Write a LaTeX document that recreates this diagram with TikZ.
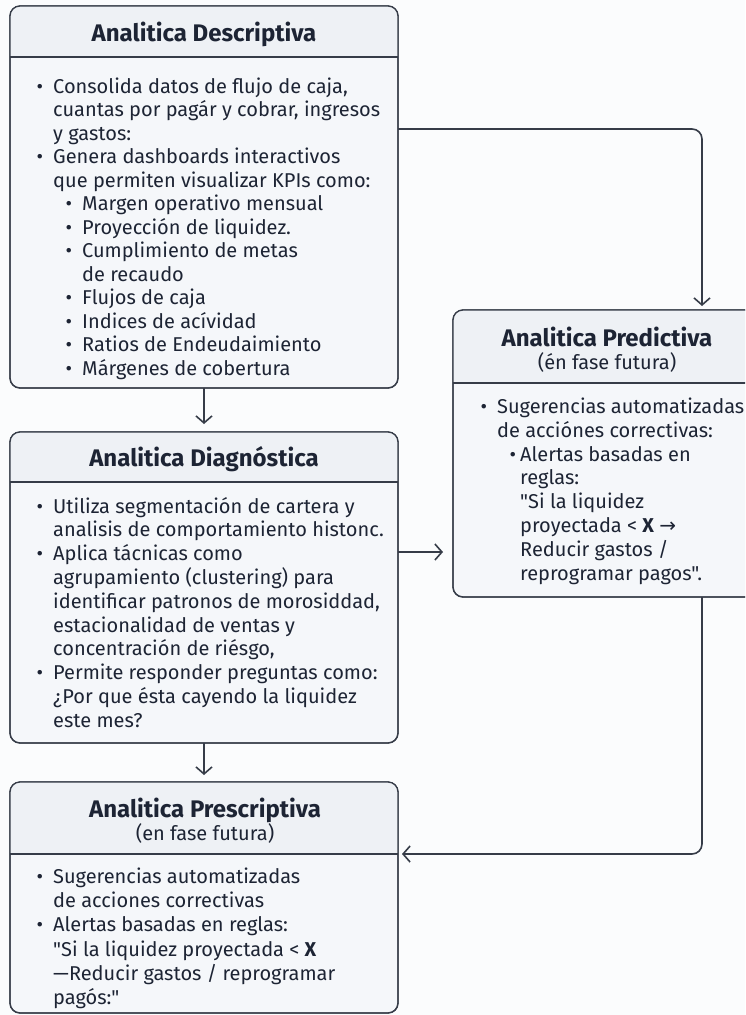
\documentclass[tikz,border=0pt]{standalone}
\usepackage{fontspec}
\setmainfont{Fira Sans}[Ligatures=TeXOff]
\newfontfamily\symfont{DejaVu Sans}
\usetikzlibrary{arrows.meta}
\definecolor{bg}{HTML}{FBFCFD}
\definecolor{boxfill}{HTML}{F5F7FA}
\definecolor{headfill}{HTML}{EEF1F5}
\definecolor{edge}{HTML}{363C48}
\definecolor{ink}{HTML}{1D2434}
\tikzset{
 box/.style={draw=edge, line width=1.3pt, fill=boxfill, rounded corners=10pt, inner sep=0pt, outer sep=0pt},
 title/.style={font=\fontsize{24}{26}\selectfont\bfseries, text=ink, inner sep=0pt, anchor=base},
 subtitle/.style={font=\fontsize{20}{23}\selectfont, text=ink, inner sep=0pt, anchor=base},
 body/.style={text=ink, inner sep=0pt, anchor=north west, align=left},
 arr/.style={draw=edge, line width=1.6pt, -{Straight Barb[length=7pt,width=16pt,line width=1.6pt]}, rounded corners=10pt},
}
\newcommand{\bul}{\llap{\textbullet\hspace{10pt}}}
\newcommand{\subbul}{\hspace*{29pt}\llap{\textbullet\hspace{10pt}}}
\newcommand{\psub}{\hspace*{23pt}\llap{\textbullet\hspace{4pt}}}
\newcommand{\panel}[6]{%
 \node[box, minimum width=#4pt, minimum height=#5pt] (#1) at (#2,#3) {};
 \begin{scope}
 \clip[rounded corners=10pt] (#1.north west) rectangle (#1.south east);
 \fill[headfill] (#1.north west) rectangle (#1.east |- 0,#6);
 \end{scope}
 \draw[edge, line width=1.3pt] (#1.west |- 0,#6) -- (#1.east |- 0,#6);
 \draw[edge, line width=1.3pt, rounded corners=10pt] (#1.north west) rectangle (#1.south east);
}
\begin{document}
\begin{tikzpicture}[x=1pt,y=-1pt]
\useasboundingbox (0,0) rectangle (745,1015);
\clip (0,0) rectangle (745,1015);
\fill[bg] (0,0) rectangle (745,1015);

\panel{A}{204}{197}{388}{382}{57}
\panel{P}{609}{453.5}{312}{287}{383}
\panel{D}{204}{587.5}{388}{311}{482}
\panel{R}{204}{897.5}{388}{231}{854}

\node[title] (At) at (204,41) {Analitica Descriptiva};
\node[title] (Dt) at (204,466) {Analitica Diagnóstica};
\node[title] (Pt) at (607,346) {Analitica Predictiva};
\node[subtitle] (Ps) at (607,369) {(én fase futura)};
\node[title] (Rt) at (205,817) {Analitica Prescriptiva};
\node[subtitle] (Rs) at (205,840) {(en fase futura)};

\node[body, font=\fontsize{20}{23.5}\selectfont] (Ab) at (53,76.5) {%
\bul\strut Consolida datos de flujo de caja,\\
cuantas por pagár y cobrar, ingresos\\
y gastos:\\
\bul Genera dashboards interactivos\\
que permiten visualizar KPIs como:\\
\subbul Margen operativo mensual\\
\subbul Proyección de liquidez.\\
\subbul Cumplimiento de metas\\
\hspace*{29pt}de recaudo\\
\subbul Flujos de caja\\
\subbul Indices de acívidad\\
\subbul Ratios de Endeudaimiento\\
\subbul Márgenes de cobertura};

\node[body, font=\fontsize{20}{23.8}\selectfont] (Db) at (53,496.3) {%
\bul\strut Utiliza segmentación de cartera y\\
analisis de comportamiento histonc.\\
\bul Aplica tácnicas como\\
agrupamiento (clustering) para\\
identificar patronos de morosiddad,\\
estacionalidad de ventas y\\
concentración de riésgo,\\
\bul Permite responder preguntas como:\\
¿Por que ésta cayendo la liquidez\\
este mes?};

\node[body, font=\fontsize{20}{23.9}\selectfont] (Pb) at (497,396.3) {%
\bul\strut Sugerencias automatizadas\\
de acciónes correctivas:\\
\psub Alertas basadas en\\
\hspace*{23pt}reglas:\\
\hspace*{23pt}"Si la liquidez\\
\hspace*{23pt}proyectada < \textbf{X} {\symfont →}\\
\hspace*{23pt}Reducir gastos /\\
\hspace*{23pt}reprogramar pagos".};

\node[body, font=\fontsize{20}{24.3}\selectfont] (Rb) at (53,866) {%
\bul\strut Sugerencias automatizadas\\
de acciones correctivas\\
\bul Alertas basadas en reglas:\\
"Si la liquidez proyectada < \textbf{X}\\
—Reducir gastos / reprogramar\\
pagós:"};

\coordinate (c1) at (702,129);
\coordinate (c2) at (0,552);
\coordinate (c3) at (702,854);
\draw[arr, shorten >=4pt] (A.east |- c1) -| (P.north -| c1);
\draw[arr, shorten >=8pt] (A.south) -- (A.south |- D.north);
\draw[arr, shorten >=10pt] (D.east |- c2) -- (P.west |- c2);
\draw[arr, shorten >=7pt] (D.south) -- (D.south |- R.north);
\draw[arr, shorten >=4pt] (P.south -| c3) |- (R.east |- c3);
\end{tikzpicture}
\end{document}
